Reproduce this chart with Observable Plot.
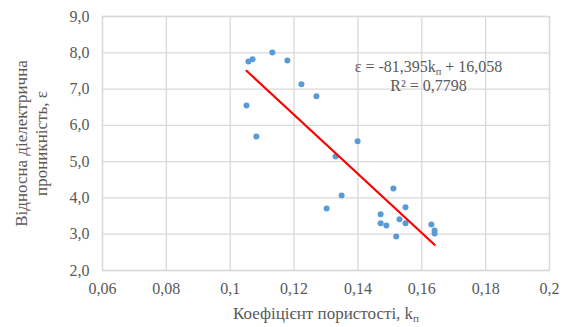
<!DOCTYPE html>
<html>
<head>
<meta charset="utf-8">
<script src="https://cdn.jsdelivr.net/npm/d3@7"></script>
<script src="https://cdn.jsdelivr.net/npm/@observablehq/plot@0.6"></script>
<style>
  html, body { margin: 0; padding: 0; background: #fff; }
  #chart svg text, #chart svg tspan { font-family: "Liberation Serif", serif !important; }
</style>
</head>
<body>
<div id="chart"></div>
<script>
// Porosity coefficient k_п and relative permittivity ε
const kp  = [0.1057, 0.1070, 0.1132, 0.1179, 0.1051, 0.1082, 0.1223, 0.1270, 0.1399, 0.1330,
             0.1349, 0.1302, 0.1511, 0.1549, 0.1471, 0.1471, 0.1489, 0.1530, 0.1549, 0.1520,
             0.1630, 0.1640, 0.1640];
const eps = [7.76, 7.82, 8.01, 7.79, 6.55, 5.69, 7.13, 6.80, 5.56, 5.14,
             4.07, 3.71, 4.26, 3.74, 3.55, 3.30, 3.24, 3.41, 3.30, 2.94,
             3.27, 3.10, 3.02];
const slope = -81.395;
const intercept = 16.058;
const r2 = "0,7798";
const xTicks = [0.06, 0.08, 0.1, 0.12, 0.14, 0.16, 0.18, 0.2];
const yTicks = [2, 3, 4, 5, 6, 7, 8, 9];
const xTitle = "Коефіцієнт пористості, kп";
const yTitle = "Відносна діелектрична\nпроникність, ε";
const eqText = "ε = -81,395kп + 16,058\nR² = " + r2;
const eqPos = {k: 0.1621, e: 7.38};

const points = kp.map((k, i) => ({k, e: eps[i]}));
const [kmin, kmax] = d3.extent(kp);
const trend = [kmin, kmax].map(k => ({k, e: slope * k + intercept}));

const comma = s => s.replace(".", ",");
const grid = "#d9d9d9";
const txt = "#595959";

const chart = Plot.plot({
  width: 566,
  height: 327,
  marginLeft: 102,
  marginRight: 17,
  marginTop: 16,
  marginBottom: 57,
  style: {fontSize: "16px", color: txt, background: "#fff"},
  x: {domain: [0.06, 0.2], ticks: xTicks},
  y: {domain: [2, 9], ticks: yTicks},
  marks: [
    Plot.gridX(xTicks, {stroke: grid, strokeOpacity: 1, strokeWidth: 1.3}),
    Plot.gridY(yTicks, {stroke: grid, strokeOpacity: 1, strokeWidth: 1.3}),
    Plot.frame({stroke: grid, strokeWidth: 1.3}),
    Plot.axisX(xTicks, {tickSize: 0, tickPadding: 12, fontSize: 16, fill: txt, label: null,
      tickFormat: d => comma(String(+d.toFixed(2)))}),
    Plot.axisY(yTicks, {tickSize: 0, tickPadding: 13, fontSize: 16, fill: txt, label: null,
      tickFormat: d => comma(d.toFixed(1))}),
    Plot.dot(points, {x: "k", y: "e", r: 3, fill: "#5b9bd5", stroke: "none"}),
    Plot.line(trend, {x: "k", y: "e", stroke: "#ff0000", strokeWidth: 2.2}),
    Plot.text([eqText], {x: () => eqPos.k, y: () => eqPos.e, text: d => d, fontSize: 16,
      fill: txt, lineHeight: 1.2, textAnchor: "middle", className: "sub"}),
    Plot.text([xTitle], {frameAnchor: "bottom", dy: 48, text: d => d, fontSize: 17, fill: txt,
      textAnchor: "middle", className: "sub"}),
    Plot.text([yTitle], {frameAnchor: "left", dx: -72, rotate: -90, text: d => d, fontSize: 17,
      fill: txt, lineHeight: 1.2, textAnchor: "middle"})
  ]
});

// serif font on every text
chart.removeAttribute("font-family");
chart.querySelectorAll("[font-family]").forEach(n => n.removeAttribute("font-family"));
chart.querySelectorAll("text, tspan").forEach(n => n.style.setProperty("font-family", "'Liberation Serif', serif", "important"));
chart.style.setProperty("font-family", "'Liberation Serif', serif", "important");

// render "п" after k as a subscript
d3.select(chart).selectAll("g.sub text, g.sub text tspan").each(function() {
  const el = this;
  if (el.querySelector && el.querySelector("tspan")) return;
  const s = el.textContent;
  const i = s.indexOf("kп");
  if (i < 0) return;
  const before = s.slice(0, i + 1), after = s.slice(i + 2);
  el.textContent = "";
  const ns = "http://www.w3.org/2000/svg";
  el.appendChild(document.createTextNode(before));
  const sub = document.createElementNS(ns, "tspan");
  sub.setAttribute("font-size", "0.65em");
  sub.setAttribute("dy", "0.3em");
  sub.textContent = "п";
  el.appendChild(sub);
  if (after) {
    const rest = document.createElementNS(ns, "tspan");
    rest.setAttribute("dy", "-0.2em");
    rest.textContent = after;
    el.appendChild(rest);
  }
});

document.getElementById("chart").appendChild(chart);
</script>
</body>
</html>
